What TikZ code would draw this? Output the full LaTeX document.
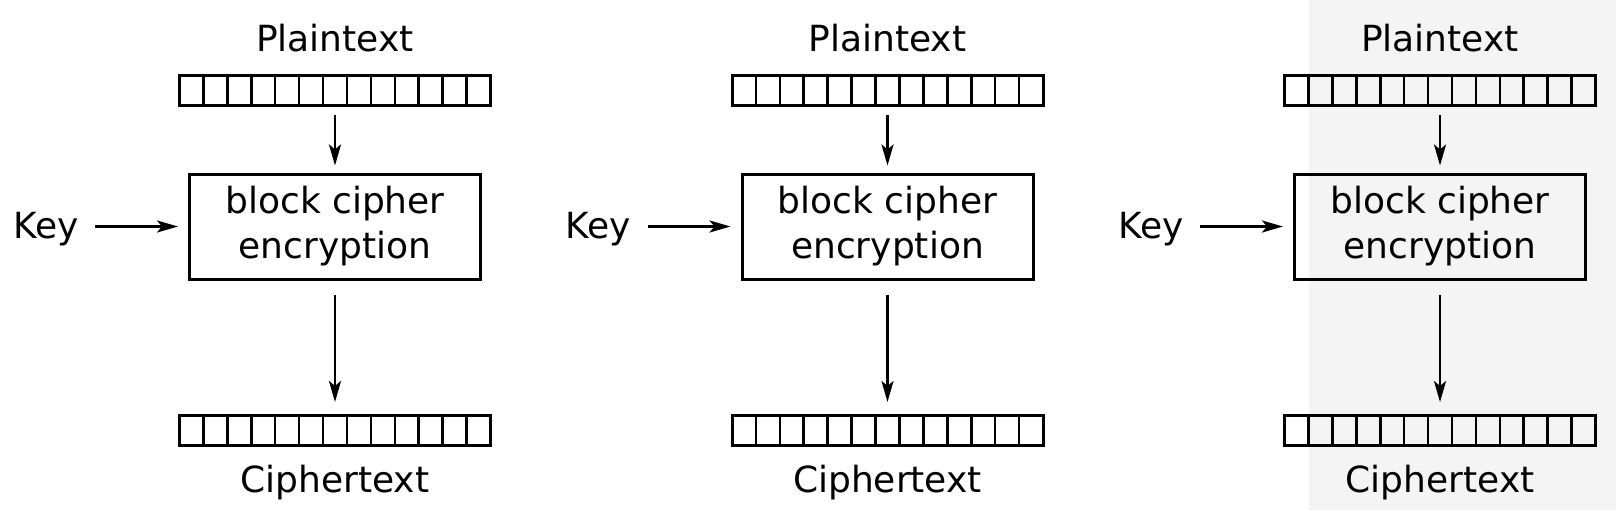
\documentclass[tikz,border=0pt]{standalone}
\usepackage{fontspec}
\setmainfont{DejaVu Sans}
\usetikzlibrary{arrows.meta, calc, positioning}
\definecolor{panelgray}{RGB}{244,244,244}

\begin{document}
\begin{tikzpicture}[x=0.5pt, y=-0.5pt,
    every node/.style={font=\fontsize{18}{22.5}\selectfont},
    lbl/.style={inner sep=0pt},
    reg/.style={draw, line width=1.5pt, outer sep=0pt, inner sep=0pt, minimum width=155.5pt, minimum height=15pt},
    cell/.style={line width=1.3pt},
    enc/.style={draw, line width=1.5pt, outer sep=0pt, align=center, minimum width=145.5pt, minimum height=52.5pt},
    arr/.style={-{Stealth[length=10.5pt, width=6pt, inset=2.5pt]}, line width=1.4pt}]
                        \useasboundingbox (0,0) rectangle (1616,510);
                        \fill[panelgray] (1309,0) rectangle (1616,510);
                        \foreach \i/\cx in {1/335, 2/887.5, 3/1440} {
                            \node[lbl, anchor=base] (pt\i) at (\cx,51) {Plaintext};
                            \node[reg] (in\i) at (\cx,90.5) {};
                            \node[enc] (enc\i) at (\cx,226.5) {block cipher\\encryption};
                            \node[lbl, anchor=base] (key\i) at (\cx-289,238) {Key};
                            \node[reg] (out\i) at (\cx,430.5) {};
                            \node[lbl, anchor=base] (ct\i) at (\cx,492) {Ciphertext};
                            \foreach \k in {1,...,12} {
                                \draw[cell] ($(in\i.south west)!\k/13!(in\i.south east)$) -- ($(in\i.north west)!\k/13!(in\i.north east)$);
                                \draw[cell] ($(out\i.south west)!\k/13!(out\i.south east)$) -- ($(out\i.north west)!\k/13!(out\i.north east)$);
                            }
                            \draw[arr, shorten <=4.75pt, shorten >=4.25pt] (in\i) -- (enc\i);
                            \draw[arr, shorten <=8pt, shorten >=6.75pt] (enc\i) -- (out\i);
                            \draw[arr, shorten <=8pt, shorten >=5.75pt] (key\i.east |- enc\i.west) -- (enc\i.west);
                        }
                    \end{tikzpicture}
\end{document}
